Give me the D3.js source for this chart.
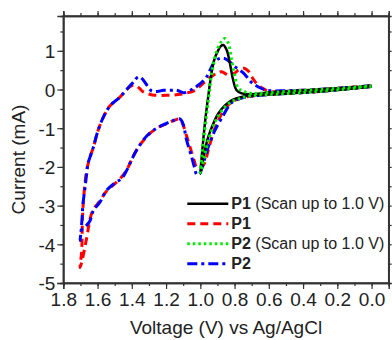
<!DOCTYPE html>
<html>
<head>
<meta charset="utf-8">
<script src="https://cdn.jsdelivr.net/npm/d3@7"></script>
<style>
  body { margin: 0; background: #fff; }
  text { font-family: "Liberation Sans", Arial, sans-serif; fill: #222; }
  .axis path, .axis line { stroke: #333; }
</style>
</head>
<body>
<div id="chart"></div>
<script>
// [voltage (V), current (mA)]
var p1Short = [
  [0.0, 0.08], [0.2, -0.01], [0.4, -0.08], [0.6, -0.13], [0.681, -0.15], [0.759, -0.19],
  [0.817, -0.28], [0.856, -0.41], [0.895, -0.62], [0.924, -0.88], [0.954, -1.23],
  [0.973, -1.57], [0.99, -1.95], [1.0, -2.18],
  [0.992, -1.75], [0.983, -1.31], [0.969, -0.71], [0.954, -0.19], [0.938, 0.33],
  [0.919, 0.76], [0.895, 1.02], [0.88, 1.12], [0.866, 1.15], [0.846, 1.02], [0.827, 0.67],
  [0.808, 0.24], [0.788, -0.02], [0.759, -0.10], [0.70, -0.12], [0.6, -0.08],
  [0.4, -0.02], [0.2, 0.03], [0.0, 0.1]
];

var p1Full = [
  [0.0, 0.08], [0.2, -0.01], [0.4, -0.08], [0.6, -0.13], [0.7, -0.17], [0.76, -0.22],
  [0.82, -0.33], [0.856, -0.5], [0.89, -0.75], [0.914, -0.99], [0.94, -1.35],
  [0.96, -1.68], [0.975, -1.9], [0.995, -2.02], [1.02, -2.02], [1.035, -1.85],
  [1.06, -1.49], [1.08, -1.2], [1.1, -0.92], [1.119, -0.76], [1.148, -0.79],
  [1.196, -0.88], [1.255, -1.0], [1.313, -1.22], [1.37, -1.55], [1.41, -1.9],
  [1.43, -2.08], [1.46, -2.26], [1.5, -2.44], [1.547, -2.62], [1.586, -2.88],
  [1.625, -3.1], [1.644, -3.35], [1.66, -3.75], [1.675, -4.1], [1.692, -4.45], [1.702, -4.6],
  [1.693, -4.2], [1.69, -3.75], [1.688, -3.3], [1.683, -2.9], [1.674, -2.45],
  [1.664, -2.1], [1.645, -1.75], [1.625, -1.5], [1.6, -1.1], [1.57, -0.75],
  [1.527, -0.42], [1.47, -0.2], [1.43, 0.0], [1.40, 0.1], [1.375, 0.1], [1.355, 0.03],
  [1.333, -0.06], [1.28, -0.14], [1.2, -0.15], [1.13, -0.13], [1.09, -0.1],
  [1.031, -0.02], [0.983, 0.16], [0.93, 0.35], [0.9, 0.43], [0.875, 0.46], [0.85, 0.4],
  [0.83, 0.37], [0.8, 0.42], [0.778, 0.5], [0.745, 0.55], [0.72, 0.48], [0.70, 0.33],
  [0.69, 0.26], [0.662, 0.11], [0.623, 0.0], [0.6, -0.05], [0.4, -0.02], [0.2, 0.03], [0.0, 0.1]
];

var p2Short = [
  [0.0, 0.08], [0.2, -0.01], [0.4, -0.08], [0.6, -0.13], [0.7, -0.16], [0.76, -0.22],
  [0.82, -0.32], [0.86, -0.47], [0.9, -0.72], [0.93, -1.0], [0.955, -1.35],
  [0.975, -1.7], [0.99, -2.0], [1.0, -2.15],
  [0.99, -1.7], [0.978, -1.2], [0.962, -0.6], [0.948, -0.1], [0.934, 0.41],
  [0.914, 0.84], [0.895, 1.1], [0.875, 1.25], [0.856, 1.32], [0.837, 1.2],
  [0.817, 0.76], [0.798, 0.33], [0.778, 0.03], [0.739, -0.06], [0.7, -0.1],
  [0.6, -0.08], [0.4, -0.02], [0.2, 0.03], [0.0, 0.1]
];

var p2Full = [
  [0.0, 0.08], [0.2, -0.01], [0.4, -0.08], [0.6, -0.13], [0.7, -0.17], [0.76, -0.22],
  [0.82, -0.35], [0.866, -0.67], [0.914, -1.05], [0.954, -1.49], [0.985, -1.95],
  [1.005, -2.18], [1.02, -2.2], [1.035, -2.0], [1.05, -1.75], [1.08, -1.31],
  [1.1, -0.9], [1.119, -0.76], [1.158, -0.8], [1.2, -0.88], [1.255, -1.0],
  [1.313, -1.2], [1.37, -1.55], [1.41, -1.9], [1.43, -2.09], [1.46, -2.3],
  [1.5, -2.42], [1.55, -2.62], [1.586, -2.91], [1.625, -3.13], [1.644, -3.39],
  [1.667, -3.52], [1.69, -3.6], [1.702, -3.9],
  [1.695, -3.6], [1.69, -3.3], [1.685, -2.95], [1.675, -2.6], [1.664, -2.2],
  [1.655, -1.9], [1.64, -1.7], [1.625, -1.5], [1.6, -1.1], [1.57, -0.75],
  [1.527, -0.42], [1.47, -0.2], [1.42, 0.05], [1.385, 0.22], [1.362, 0.33],
  [1.34, 0.28], [1.31, 0.1], [1.284, -0.04], [1.25, -0.05], [1.216, -0.02],
  [1.17, -0.02], [1.138, -0.02], [1.1, -0.08], [1.09, -0.08], [1.05, 0.0],
  [1.012, 0.11], [0.963, 0.33], [0.924, 0.67], [0.89, 0.8], [0.856, 0.8],
  [0.82, 0.68], [0.798, 0.59], [0.749, 0.43], [0.70, 0.18], [0.662, 0.07],
  [0.613, -0.02], [0.5, -0.03], [0.4, -0.02], [0.2, 0.03], [0.0, 0.1]
];

var xTicks = [1.8, 1.6, 1.4, 1.2, 1.0, 0.8, 0.6, 0.4, 0.2, 0.0];
var yTicks = [-5, -4, -3, -2, -1, 0, 1];
var legendNames = ["P1", "P1", "P2", "P2"];
var legendNotes = ["(Scan up to 1.0 V)", "", "(Scan up to 1.0 V)", ""];

var margin = {top: 16, right: 3.3, bottom: 57, left: 63.3};
var W = 392, H = 340;
var width = W - margin.left - margin.right;
var height = H - margin.top - margin.bottom;

var svg = d3.select("#chart").append("svg")
    .attr("width", W)
    .attr("height", H);

var g = svg.append("g")
    .attr("transform", `translate(${margin.left},${margin.top})`);

var x = d3.scaleLinear().domain([1.8, -0.1]).range([0, width]);
var y = d3.scaleLinear().domain([-5, 1.9]).range([height, 0]);

var series = [
  {data: p1Short, color: "#000000", dash: null, w: 2.5},
  {data: p1Full, color: "#ff0000", dash: "8,5", w: 3},
  {data: p2Short, color: "#00ee00", dash: "2.5,3", w: 3},
  {data: p2Full, color: "#0000ff", dash: "10,4,3,4", w: 3}
];

// drawing order: red and blue under, black and green on top
var order = [1, 3, 0, 2];

var line = d3.line()
    .x(d => x(d[0]))
    .y(d => y(d[1]))
    .curve(d3.curveCatmullRom.alpha(0.5));

g.append("clipPath").attr("id", "clip")
    .append("rect").attr("width", width).attr("height", height);

order.forEach(function(k) {
  var s = series[k];
  g.append("path")
      .datum(s.data)
      .attr("clip-path", "url(#clip)")
      .attr("fill", "none")
      .attr("stroke", s.color)
      .attr("stroke-width", s.w)
      .attr("stroke-dasharray", s.dash)
      .attr("stroke-linejoin", "round")
      .attr("d", line);
});

// axes: ticks point outward on all four sides
var minorX = d3.range(-0.1, 1.81, 0.1).map(v => +v.toFixed(1));
var minorY = d3.range(-5, 1.91, 0.5);

g.append("g").attr("class", "axis")
    .attr("transform", `translate(0,${height})`)
    .call(d3.axisBottom(x).tickValues(minorX).tickSize(3).tickFormat(""));
g.append("g").attr("class", "axis xAxis")
    .attr("transform", `translate(0,${height})`)
    .call(d3.axisBottom(x).tickValues(xTicks).tickSize(6).tickPadding(4).tickFormat(d3.format(".1f")));

g.append("g").attr("class", "axis")
    .call(d3.axisTop(x).tickValues(minorX).tickSize(3).tickFormat(""));
g.append("g").attr("class", "axis")
    .call(d3.axisTop(x).tickValues(xTicks).tickSize(5).tickFormat(""));

g.append("g").attr("class", "axis")
    .call(d3.axisLeft(y).tickValues(minorY).tickSize(3).tickFormat(""));
g.append("g").attr("class", "axis yAxis")
    .call(d3.axisLeft(y).tickValues(yTicks).tickSize(6).tickPadding(2).tickFormat(d => d));

g.append("g").attr("class", "axis")
    .attr("transform", `translate(${width},0)`)
    .call(d3.axisRight(y).tickValues(minorY).tickSize(3).tickFormat(""));

g.selectAll(".axis path").attr("stroke-width", 1.5);
g.selectAll(".axis line").attr("stroke-width", 1.2);
g.selectAll(".axis text").style("font-size", "19px").attr("fill", "#222");
g.selectAll(".yAxis text").attr("dy", "0.36em");

// frame
g.append("rect")
    .attr("width", width)
    .attr("height", height)
    .attr("fill", "none")
    .attr("stroke", "#333")
    .attr("stroke-width", 1.5);

// axis titles
svg.append("text")
    .attr("x", margin.left + width / 2)
    .attr("y", 334)
    .attr("text-anchor", "middle")
    .style("font-size", "19px")
    .text("Voltage (V) vs Ag/AgCl");

svg.append("text")
    .attr("transform", `translate(25,${margin.top + height / 2 + 10}) rotate(-90)`)
    .attr("text-anchor", "middle")
    .style("font-size", "19px")
    .text("Current (mA)");

// legend, lower right inside the frame
var legend = g.append("g")
    .attr("transform", `translate(124,${y(-2.95)})`);

series.forEach(function(s, i) {
  var row = legend.append("g").attr("transform", `translate(0,${i * 20})`);
  row.append("line")
      .attr("x1", 0).attr("x2", 41)
      .attr("stroke", s.color)
      .attr("stroke-width", s.w)
      .attr("stroke-dasharray", s.dash);
  var t = row.append("text")
      .attr("x", 44)
      .attr("dy", "0.35em")
      .style("font-size", "16px");
  t.append("tspan").style("font-weight", "bold").text(legendNames[i]);
  if (legendNotes[i]) t.append("tspan").text(" " + legendNotes[i]);
});
</script>
</body>
</html>
